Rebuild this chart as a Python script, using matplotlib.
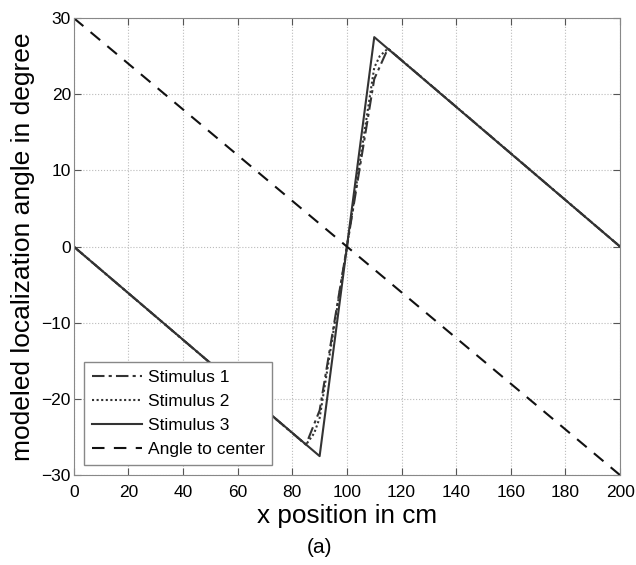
import numpy as np
import matplotlib
matplotlib.use("Agg")
from matplotlib import pyplot as plt

plt.rcParams['font.family'] = ['Liberation Sans', 'DejaVu Sans']

# data
stim1_x = [0, 85, 90, 100, 110, 115, 200]
stim1_y = [0, -26.0, -21.5, 0, 22.0, 26.0, 0]
stim2_x = [0, 85, 88, 90, 100, 110, 112, 115, 200]
stim2_y = [0, -26.0, -24.5, -22.5, 0, 23.5, 25.0, 26.0, 0]
stim3_x = [0, 90, 110, 200]
stim3_y = [0, -27.5, 27.5, 0]
center_x = [0, 200]
center_y = [30, -30]

xticks = np.arange(0, 201, 20)
yticks = np.arange(-30, 31, 10)

fig = plt.figure(figsize=(6.36, 5.65), dpi=100)
ax = fig.add_axes([0.116, 0.159, 0.859, 0.809])

col = "#333333"
ax.plot(stim1_x, stim1_y, color=col, lw=1.5, linestyle=(0, (6, 2, 1.5, 2)), label="Stimulus 1")
ax.plot(stim2_x, stim2_y, color=col, lw=1.5, linestyle=(0, (1, 1.2)), label="Stimulus 2")
ax.plot(stim3_x, stim3_y, color=col, lw=1.5, linestyle="-", label="Stimulus 3")
ax.plot(center_x, center_y, color="#111111", lw=1.5, linestyle=(0, (6, 4.5)), label="Angle to center")

ax.set_xlim(0, 200)
ax.set_ylim(-30, 30)
ax.set_xticks(xticks)
ax.set_yticks(yticks)
ax.grid(True, linestyle=":", color="#bbbbbb", lw=0.8)
ax.tick_params(direction="in", top=True, right=True, labelsize=12.5, color="#555555",
               length=5, pad=2)
ax.tick_params(axis="x", pad=7)
for s in ax.spines.values():
    s.set_color("#888888")

ax.set_xlabel("x position in cm", fontsize=18.8, labelpad=3)
ax.set_ylabel("modeled localization angle in degree", fontsize=19, labelpad=5)
fig.text(0.503, 0.022, "(a)", fontsize=15, ha="center")

leg = ax.legend(loc="lower left", fontsize=12.5, fancybox=False, framealpha=1,
                edgecolor="#888888", handlelength=2.9, borderaxespad=0.6,
                labelspacing=0.5, handletextpad=0.3, borderpad=0.45)

plt.savefig("out.png", dpi=100)
